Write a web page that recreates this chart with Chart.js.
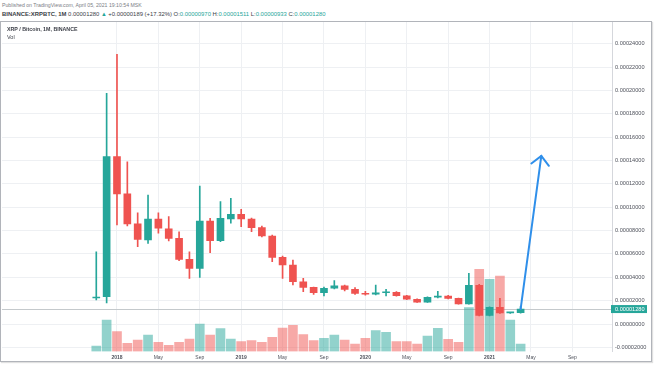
<!DOCTYPE html>
<html><head><meta charset="utf-8">
<script src="https://cdn.jsdelivr.net/npm/chart.js@4.4.1/dist/chart.umd.min.js"></script>
<style>
html,body{margin:0;padding:0;background:#fff;}
#wrap{position:relative;width:654px;height:366px;overflow:hidden;font-family:"Liberation Sans",Arial,sans-serif;}
.t{position:absolute;white-space:nowrap;line-height:1;}
.g{color:#26a69a;}
#box{position:absolute;left:0;top:21px;width:652px;height:341px;box-sizing:border-box;border:1px solid #b1b4ba;box-shadow:1px 1px 1px rgba(0,0,0,0.12);}
canvas{position:absolute;left:0;top:0;}
</style></head><body>
<div id="wrap">
<div class="t" style="left:2px;top:3px;font-size:5.2px;color:#7b7e86">Published on TradingView.com, April 05, 2021 19:10:54 MSK</div>
<div class="t" style="left:2px;top:12px;font-size:5.9px;color:#3b3e47"><b>BINANCE:XRPBTC, 1M</b> 0.00001280 <span class="g">▲</span> +0.00000189 (+17.32%) O:<span class="g">0.00000970</span> H:<span class="g">0.00001511</span> L:<span class="g">0.00000933</span> C:<span class="g">0.00001280</span></div>
<div id="box"></div>
<canvas id="c" width="654" height="366"></canvas>
<div class="t" style="left:7px;top:26.5px;font-size:5.3px;font-weight:bold;color:#3b3e47">XRP / Bitcoin, 1M, BINANCE</div>
<div class="t" style="left:7px;top:34.5px;font-size:5.5px;color:#3b3e47">Vol</div>
</div>
<script>
// ---- data (XRP/BTC monthly) ----
const months = ['2017-11','2017-12','2018-01','2018-02','2018-03','2018-04','2018-05','2018-06','2018-07','2018-08','2018-09','2018-10','2018-11','2018-12',
'2019-01','2019-02','2019-03','2019-04','2019-05','2019-06','2019-07','2019-08','2019-09','2019-10','2019-11','2019-12',
'2020-01','2020-02','2020-03','2020-04','2020-05','2020-06','2020-07','2020-08','2020-09','2020-10','2020-11','2020-12',
'2021-01','2021-02','2021-03','2021-04'];
const openP  = [0.0000223,0.0000234,0.0001433,0.0001114,0.0000857,0.0000720,0.0000899,0.0000815,0.0000734,0.0000554,0.0000477,0.0000882,0.0000714,0.0000899,
0.0000940,0.0000899,0.0000825,0.0000754,0.0000571,0.0000505,0.0000362,0.0000314,0.0000268,0.0000306,0.0000326,0.0000297,
0.0000263,0.0000255,0.0000268,0.0000272,0.0000242,0.0000212,0.0000188,0.0000229,0.0000240,0.0000220,0.0000171,0.0000332,
0.0000073,0.0000143,0.0000095,0.0000097];
const highP  = [0.0000619,0.0001976,0.0002310,0.0001390,0.0000953,0.0001105,0.0000953,0.0000919,0.0000790,0.0000619,0.0001182,0.0000905,0.0001048,0.0001077,
0.0000982,0.0000908,0.0000839,0.0000762,0.0000582,0.0000548,0.0000391,0.0000317,0.0000317,0.0000371,0.0000334,0.0000311,
0.0000280,0.0000334,0.0000297,0.0000278,0.0000246,0.0000215,0.0000233,0.0000280,0.0000245,0.0000223,0.0000434,0.0000340,
0.0000148,0.0000220,0.0000101,0.00001511];
const lowP   = [0.0000206,0.0000180,0.0000848,0.0000839,0.0000662,0.0000691,0.0000777,0.0000711,0.0000542,0.0000391,0.0000400,0.0000611,0.0000705,0.0000863,
0.0000833,0.0000790,0.0000745,0.0000534,0.0000391,0.0000334,0.0000277,0.0000254,0.0000240,0.0000300,0.0000283,0.0000253,
0.0000248,0.0000250,0.0000240,0.0000238,0.0000208,0.0000185,0.0000185,0.0000223,0.0000215,0.0000169,0.0000169,0.0000069,
0.0000070,0.0000090,0.0000091,0.00000933];
const closeP = [0.0000231,0.0001433,0.0001114,0.0000857,0.0000725,0.0000899,0.0000820,0.0000734,0.0000554,0.0000477,0.0000882,0.0000714,0.0000905,0.0000940,
0.0000899,0.0000825,0.0000754,0.0000571,0.0000505,0.0000362,0.0000314,0.0000268,0.0000306,0.0000326,0.0000297,0.0000263,
0.0000255,0.0000268,0.0000272,0.0000242,0.0000212,0.0000188,0.0000229,0.0000240,0.0000220,0.0000171,0.0000332,0.0000073,
0.0000143,0.0000095,0.0000097,0.0000128];
const volume = [55,315,198,82,115,165,92,62,92,125,275,165,228,125,98,108,92,142,235,262,170,108,132,165,115,75,
132,208,192,98,98,75,155,232,122,92,438,822,722,755,315,75];
const priceTicks = [-0.00002,0,0.00002,0.00004,0.00006,0.00008,0.0001,0.00012,0.00014,0.00016,0.00018,0.0002,0.00022,0.00024];
const timeTickMonths = ['2018-01','2018-05','2018-09','2019-01','2019-05','2019-09','2020-01','2020-05','2020-09','2021-01','2021-05','2021-09'];
const timeTickLabels = ['2018','May','Sep','2019','May','Sep','2020','May','Sep','2021','May','Sep'];
const lastPrice = 0.0000128;
const arrowFrom = ['2021-04', 0.0000128];
const arrowTo   = ['2021-06', 0.000144];

// ---- helpers ----
const idx = s => { const [y,m] = s.split('-').map(Number); return (y-2018)*12 + (m-1); };
const UP = '#26a69a', DN = '#ef5350';
const UPV = 'rgba(38,166,154,0.5)', DNV = 'rgba(239,83,80,0.5)';
const isUp = months.map((m,i) => closeP[i] >= openP[i]);

const fontFam = '"Liberation Sans", Arial, sans-serif';

const overlay = {
  id: 'overlay',
  beforeDatasetsDraw(chart) {
    const {ctx, chartArea:a, scales:{y}} = chart;
    const py = Math.round(y.getPixelForValue(lastPrice)) + 0.5;
    ctx.save();
    ctx.strokeStyle = '#c4c9cc';
    ctx.lineWidth = 1;
    ctx.beginPath(); ctx.moveTo(a.left, py); ctx.lineTo(a.right, py); ctx.stroke();
    ctx.restore();
  },
  afterDatasetsDraw(chart) {
    const {ctx, scales:{x, y}} = chart;
    const x0 = x.getPixelForValue(idx(arrowFrom[0])), y0 = y.getPixelForValue(arrowFrom[1]);
    const x1 = x.getPixelForValue(idx(arrowTo[0])), y1 = y.getPixelForValue(arrowTo[1]);
    const ang = Math.atan2(y0 - y1, x0 - x1);
    const L = 12.5, spread = Math.PI / 4;
    ctx.save();
    ctx.strokeStyle = '#2f8fea';
    ctx.lineWidth = 2;
    ctx.lineCap = 'round';
    ctx.beginPath();
    ctx.moveTo(x1 + L*Math.cos(ang - spread), y1 + L*Math.sin(ang - spread));
    ctx.lineTo(x1, y1);
    ctx.lineTo(x1 + L*Math.cos(ang + spread), y1 + L*Math.sin(ang + spread));
    ctx.stroke();
    ctx.restore();
  },
  afterDraw(chart) {
    const {ctx, chartArea:a, scales:{y}} = chart;
    const py = y.getPixelForValue(lastPrice);
    ctx.save();
    ctx.fillStyle = UP;
    ctx.fillRect(a.right - 1, py - 4, 36, 8);
    ctx.fillStyle = '#ffffff';
    ctx.font = '5.6px ' + fontFam;
    ctx.textBaseline = 'middle';
    ctx.textAlign = 'left';
    ctx.fillText(lastPrice.toFixed(8), a.right + 3, py + 0.3);
    ctx.restore();
  }
};

new Chart(document.getElementById('c'), {
  type: 'bar',
  data: {
    datasets: [
      { type: 'line', label: 'arrow', order: 0, yAxisID: 'y',
        data: [{x: idx(arrowFrom[0]), y: arrowFrom[1]}, {x: idx(arrowTo[0]), y: arrowTo[1]}],
        borderColor: '#2f8fea', borderWidth: 2, pointRadius: 0, borderCapStyle: 'round', tension: 0 },
      { label: 'body', order: 1, yAxisID: 'y', grouped: false,
        data: months.map((m,i) => ({x: idx(m), y: [openP[i], closeP[i]]})),
        backgroundColor: isUp.map(u => u ? UP : DN), barThickness: 7, minBarLength: 1, borderWidth: 0 },
      { label: 'wick', order: 2, yAxisID: 'y', grouped: false,
        data: months.map((m,i) => ({x: idx(m), y: [lowP[i], highP[i]]})),
        backgroundColor: isUp.map(u => u ? UP : DN), barThickness: 1, borderWidth: 0 },
      { label: 'Vol', order: 3, yAxisID: 'yv', grouped: false,
        data: months.map((m,i) => ({x: idx(m), y: volume[i]})),
        backgroundColor: isUp.map(u => u ? UPV : DNV), barThickness: 9, borderWidth: 0 }
    ]
  },
  options: {
    responsive: false, animation: false, devicePixelRatio: 1,
    layout: { padding: { left: 2, top: 22, right: 2, bottom: 4 } },
    plugins: { legend: { display: false }, tooltip: { enabled: false } },
    scales: {
      x: {
        type: 'linear', min: -11.11, max: 47.83, offset: false,
        grid: { color: '#eef0f3', drawTicks: false, offset: false },
        border: { display: false },
        afterBuildTicks: ax => { ax.ticks = timeTickMonths.map(m => ({value: idx(m)})); },
        afterFit: ax => { ax.height = 10.5; },
        ticks: {
          autoSkip: false, maxRotation: 0, padding: 3, color: '#4f525c',
          font: c => ({ family: fontFam, size: 5, weight: (c.index % 3 === 0) ? 'bold' : 'normal' }),
          callback: (v, i) => timeTickLabels[i]
        }
      },
      y: {
        position: 'right', min: -0.00002355, max: 0.00025866,
        grid: { color: '#eef0f3', drawTicks: false },
        border: { display: true, color: '#d5d7dc' },
        afterBuildTicks: ax => { ax.ticks = priceTicks.map(v => ({value: v})); },
        afterFit: ax => { ax.width = 40; },
        ticks: { padding: 3, color: '#4f525c', font: { family: fontFam, size: 5.6 },
          callback: v => Number(v).toFixed(8) }
      },
      yv: { display: false, min: 0, max: 3295 }
    }
  },
  plugins: [overlay]
});
</script>
</body></html>
